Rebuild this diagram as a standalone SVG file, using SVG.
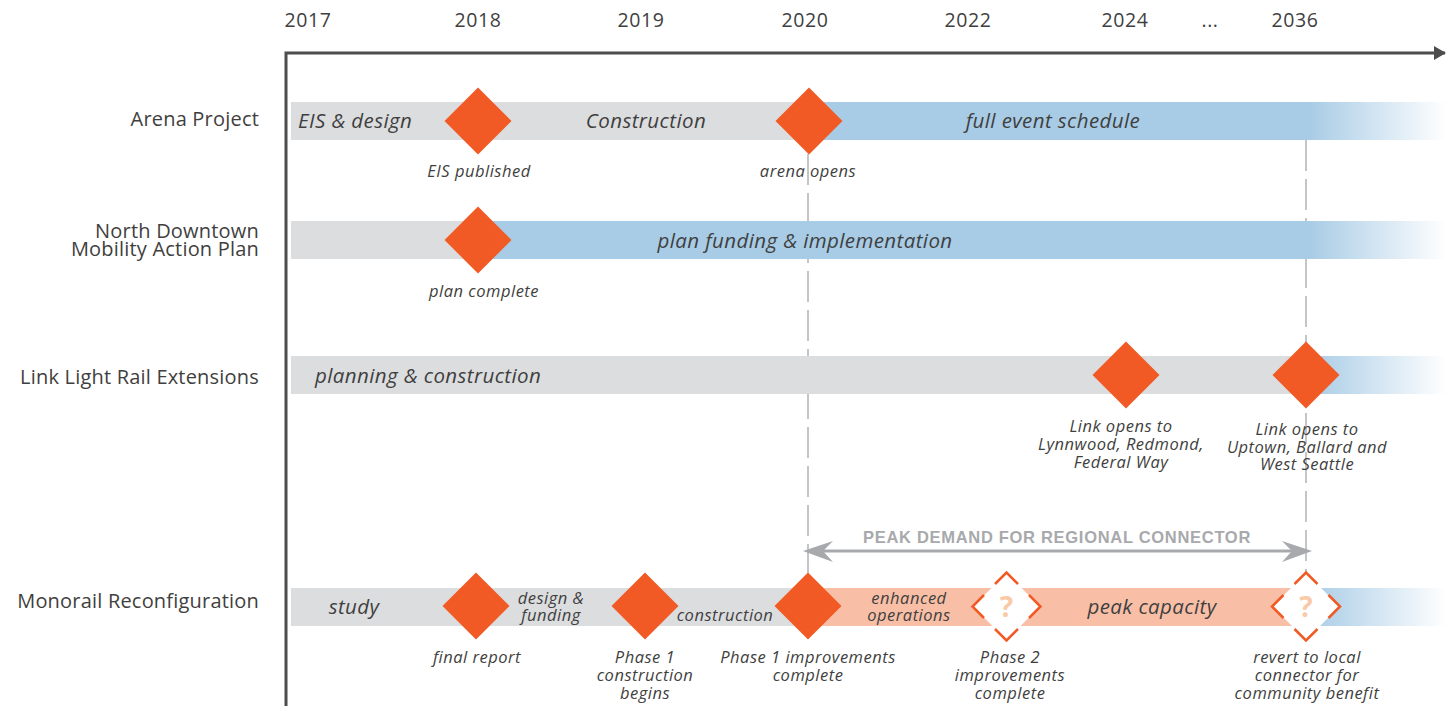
<svg xmlns="http://www.w3.org/2000/svg" width="1447" height="706" viewBox="0 0 1447 706">
<defs>
<style>
.yr{font-family:"Open Sans","Liberation Sans",sans-serif;font-size:19.5px;letter-spacing:0.6px;fill:#3f3f40;text-anchor:middle}
.row{font-family:"Open Sans","Liberation Sans",sans-serif;font-size:20px;letter-spacing:0.2px;fill:#3f3f40;text-anchor:end}
.bt{font-family:"Open Sans","Liberation Sans",sans-serif;font-style:italic;font-size:20.5px;letter-spacing:0.4px;fill:#3f3f40;text-anchor:middle}
.bts{font-family:"Open Sans","Liberation Sans",sans-serif;font-style:italic;font-size:20.5px;letter-spacing:0.4px;fill:#3f3f40;text-anchor:start}
.st{font-family:"Open Sans","Liberation Sans",sans-serif;font-style:italic;font-size:16.5px;letter-spacing:0.5px;fill:#3f3f40;text-anchor:middle}
.lb{font-family:"Open Sans","Liberation Sans",sans-serif;font-style:italic;font-size:16.5px;letter-spacing:0.5px;fill:#3f3f40;text-anchor:middle}
.gray{fill:#dcdddf}
.blue{fill:#a9cce6}
.salmon{fill:#f9bfa6}
.dia{fill:#f15a24}
.odia{fill:#ffffff}
.ocorner{fill:none;stroke:#f15a24;stroke-width:2.5}
.q{font-family:"Open Sans","Liberation Sans",sans-serif;font-weight:bold;font-size:28px;fill:#f9c9a8;text-anchor:middle}
.dash{stroke:#c4c5c7;stroke-width:2;stroke-dasharray:31 8;fill:none}
.peak{font-family:"Liberation Sans",sans-serif;font-weight:bold;font-size:16.5px;letter-spacing:0.7px;fill:#a7a9ac;text-anchor:middle}
</style>
<linearGradient id="fade" gradientUnits="userSpaceOnUse" x1="1310" y1="0" x2="1447" y2="0">
<stop offset="0" stop-color="#a9cce6" stop-opacity="1"/>
<stop offset="1" stop-color="#a9cce6" stop-opacity="0"/>
</linearGradient>
<marker id="axisHead" markerWidth="12" markerHeight="14" refX="11" refY="7" orient="auto" markerUnits="userSpaceOnUse">
<path d="M0,0 L12,7 L0,14 Z" fill="#4d4d4d"/>
</marker>
<path id="diamond" d="M0,-33.5 L33.5,0 L0,33.5 L-33.5,0 Z"/>
</defs>

<!-- year labels -->
<g id="years">
<text class="yr" x="308" y="27">2017</text>
<text class="yr" x="478" y="27">2018</text>
<text class="yr" x="641" y="27">2019</text>
<text class="yr" x="805" y="27">2020</text>
<text class="yr" x="968" y="27">2022</text>
<text class="yr" x="1125" y="27">2024</text>
<text class="yr" x="1210" y="27">...</text>
<text class="yr" x="1295" y="27">2036</text>
</g>

<!-- row labels -->
<g id="row-labels">
<text class="row" x="259" y="126">Arena Project</text>
<text class="row" x="259" y="238">North Downtown<tspan x="259" dy="18">Mobility Action Plan</tspan></text>
<text class="row" x="259" y="384">Link Light Rail Extensions</text>
<text class="row" x="259" y="608">Monorail Reconfiguration</text>
</g>

<!-- connectors: axis, dashed guides, peak demand arrow -->
<g id="connectors">
<path d="M286,706 L286,53 L1445,53" fill="none" stroke="#4d4d4d" stroke-width="3" marker-end="url(#axisHead)"/>
<line class="dash" x1="808" y1="154" x2="808" y2="573"/>
<line class="dash" x1="1306" y1="140" x2="1306" y2="573"/>
<line x1="812" y1="551" x2="1304" y2="551" stroke="#a7a9ac" stroke-width="3"/>
<path d="M803,551 L833,541 L823,551 L833,562 Z" fill="#a7a9ac"/>
<path d="M1312,551 L1282,541 L1292,551 L1282,562 Z" fill="#a7a9ac"/>
<text class="peak" x="1057" y="543">PEAK DEMAND FOR REGIONAL CONNECTOR</text>
</g>

<!-- Arena Project row -->
<g id="arena">
<rect class="gray" x="291" y="102" width="517" height="38"/>
<rect class="blue" x="808" y="102" width="502" height="38"/>
<rect x="1310" y="102" width="137" height="38" fill="url(#fade)"/>
<text class="bts" x="298" y="128">EIS &amp; design</text>
<text class="bt" x="646" y="128">Construction</text>
<text class="bt" x="1053" y="128">full event schedule</text>
</g>
<g id="eis-published">
<use href="#diamond" class="dia" x="478" y="121"/>
<text class="lb" x="479" y="177">EIS published</text>
</g>
<g id="arena-opens">
<use href="#diamond" class="dia" x="809" y="121"/>
<text class="lb" x="808" y="177">arena opens</text>
</g>

<!-- North Downtown row -->
<g id="north-downtown">
<rect class="gray" x="291" y="221" width="187" height="38"/>
<rect class="blue" x="478" y="221" width="832" height="38"/>
<rect x="1310" y="221" width="137" height="38" fill="url(#fade)"/>
<text class="bt" x="805" y="248">plan funding &amp; implementation</text>
</g>
<g id="plan-complete">
<use href="#diamond" class="dia" x="478" y="240"/>
<text class="lb" x="484" y="297">plan complete</text>
</g>

<!-- Link Light Rail row -->
<g id="link-light-rail">
<rect class="gray" x="291" y="356" width="1015" height="38"/>
<rect x="1306" y="356" width="141" height="38" fill="url(#fade)"/>
<text class="bts" x="315" y="383">planning &amp; construction</text>
</g>
<g id="link-2024">
<use href="#diamond" class="dia" x="1126" y="375"/>
<text class="lb" x="1121" y="432">Link opens to<tspan x="1121" dy="18">Lynnwood, Redmond,</tspan><tspan x="1121" dy="18">Federal Way</tspan></text>
</g>
<g id="link-2036">
<use href="#diamond" class="dia" x="1306" y="375"/>
<text class="lb" x="1307" y="435">Link opens to<tspan x="1307" dy="18">Uptown, Ballard and</tspan><tspan x="1307" dy="17">West Seattle</tspan></text>
</g>

<!-- Monorail row -->
<g id="monorail">
<rect class="gray" x="291" y="588" width="517" height="38"/>
<rect class="salmon" x="808" y="588" width="498" height="38"/>
<rect x="1306" y="588" width="141" height="38" fill="url(#fade)"/>
<text class="bt" x="354" y="614">study</text>
<text class="st" x="551" y="604">design &amp;<tspan x="551" dy="17">funding</tspan></text>
<text class="st" x="725" y="621">construction</text>
<text class="st" x="909" y="604">enhanced<tspan x="909" dy="17">operations</tspan></text>
<text class="bt" x="1152" y="614">peak capacity</text>
</g>
<g id="final-report">
<use href="#diamond" class="dia" x="476" y="606"/>
<text class="lb" x="477" y="663">final report</text>
</g>
<g id="phase1-begins">
<use href="#diamond" class="dia" x="645" y="606"/>
<text class="lb" x="645" y="663">Phase 1<tspan x="645" dy="18">construction</tspan><tspan x="645" dy="18">begins</tspan></text>
</g>
<g id="phase1-complete">
<use href="#diamond" class="dia" x="808" y="606"/>
<text class="lb" x="808" y="663">Phase 1 improvements<tspan x="808" dy="18">complete</tspan></text>
</g>
<g id="phase2-complete">
<use href="#diamond" class="odia" x="1006.5" y="606.5"/>
<path class="ocorner" d="M995,584 L1006.5,572.5 L1018,584 M1029,595 L1040.5,606.5 L1029,618 M1018,629 L1006.5,640.5 L995,629 M984,618 L972.5,606.5 L984,595"/>
<text class="q" x="1006.5" y="617">?</text>
<text class="lb" x="1010" y="663">Phase 2<tspan x="1010" dy="18">improvements</tspan><tspan x="1010" dy="18">complete</tspan></text>
</g>
<g id="revert-local">
<use href="#diamond" class="odia" x="1306" y="606.5"/>
<path class="ocorner" d="M1294.5,584 L1306,572.5 L1317.5,584 M1328.5,595 L1340,606.5 L1328.5,618 M1317.5,629 L1306,640.5 L1294.5,629 M1283.5,618 L1272,606.5 L1283.5,595"/>
<text class="q" x="1306" y="617">?</text>
<text class="lb" x="1307" y="663">revert to local<tspan x="1307" dy="18">connector for</tspan><tspan x="1307" dy="18">community benefit</tspan></text>
</g>
</svg>
